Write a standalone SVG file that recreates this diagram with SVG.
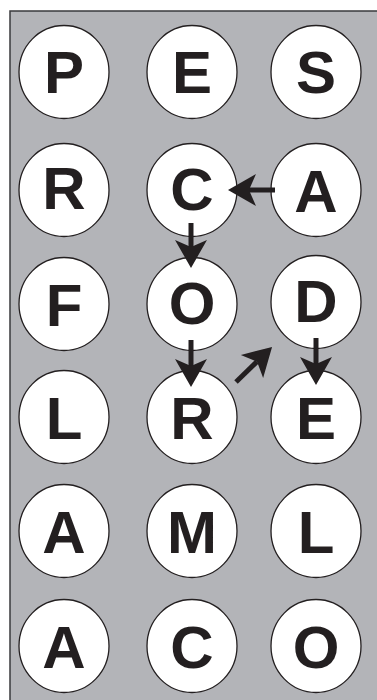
<svg xmlns="http://www.w3.org/2000/svg" width="377" height="700" viewBox="0 0 377 700">
<defs>
<style>
.n ellipse{fill:#fff;stroke:#231f20;stroke-width:1.3}
.n text{font-family:"Liberation Sans",Arial,sans-serif;font-weight:bold;font-size:60px;fill:#231f20;text-anchor:middle}
.c line{stroke:#231f20;stroke-width:5;fill:none;marker-end:url(#ah)}
</style>
<marker id="ah" markerUnits="userSpaceOnUse" markerWidth="30" markerHeight="34" refX="7" refY="16" orient="auto" viewBox="0 0 30 32" overflow="visible">
<path d="M0,0 L28,16 L0,32 L7,16 Z" fill="#231f20"/>
</marker>
</defs>
<rect x="0" y="0" width="377" height="700" fill="#fff"/>
<rect x="10" y="11" width="400" height="720" fill="#b3b4b8" stroke="#3a3a3c" stroke-width="1.5"/>
<g id="n-P" class="n"><ellipse cx="64" cy="72" rx="45" ry="46.5"/><text x="64" y="93">P</text></g>
<g id="n-E1" class="n"><ellipse cx="192" cy="72" rx="45" ry="46.5"/><text x="192" y="93">E</text></g>
<g id="n-S" class="n"><ellipse cx="316" cy="72" rx="45" ry="46.5"/><text x="316" y="93">S</text></g>
<g id="n-R1" class="n"><ellipse cx="64" cy="190" rx="45" ry="46.5"/><text x="64" y="209">R</text></g>
<g id="n-C1" class="n"><ellipse cx="192" cy="190" rx="45" ry="46.5"/><text x="192" y="210">C</text></g>
<g id="n-A1" class="n"><ellipse cx="316" cy="190" rx="45" ry="46.5"/><text x="316" y="212">A</text></g>
<g id="n-F" class="n"><ellipse cx="64" cy="304" rx="45" ry="46.5"/><text x="64" y="326">F</text></g>
<g id="n-O1" class="n"><ellipse cx="192" cy="304" rx="45" ry="46.5"/><text x="192" y="324">O</text></g>
<g id="n-D" class="n"><ellipse cx="316" cy="302" rx="45" ry="46.5"/><text x="316" y="322">D</text></g>
<g id="n-L1" class="n"><ellipse cx="64" cy="417" rx="45" ry="46.5"/><text x="64" y="439">L</text></g>
<g id="n-R2" class="n"><ellipse cx="192" cy="417" rx="45" ry="46.5"/><text x="192" y="439">R</text></g>
<g id="n-E2" class="n"><ellipse cx="316" cy="417" rx="45" ry="46.5"/><text x="316" y="439">E</text></g>
<g id="n-A2" class="n"><ellipse cx="64" cy="531" rx="45" ry="46.5"/><text x="64" y="553">A</text></g>
<g id="n-M" class="n"><ellipse cx="192" cy="531" rx="45" ry="46.5"/><text x="192" y="553">M</text></g>
<g id="n-L2" class="n"><ellipse cx="316" cy="531" rx="45" ry="46.5"/><text x="316" y="553">L</text></g>
<g id="n-A3" class="n"><ellipse cx="64" cy="646" rx="45" ry="46.5"/><text x="64" y="668">A</text></g>
<g id="n-C2" class="n"><ellipse cx="192" cy="646" rx="45" ry="46.5"/><text x="192" y="668">C</text></g>
<g id="n-O2" class="n"><ellipse cx="316" cy="646" rx="45" ry="46.5"/><text x="316" y="668">O</text></g>
<g id="connectors" class="c">
<line x1="275" y1="190" x2="249" y2="190"/>
<line x1="191" y1="223" x2="191" y2="247"/>
<line x1="191" y1="340" x2="191" y2="366"/>
<line x1="236" y1="382" x2="257" y2="361.6"/>
<line x1="316" y1="338" x2="316" y2="364"/>
</g>
</svg>
